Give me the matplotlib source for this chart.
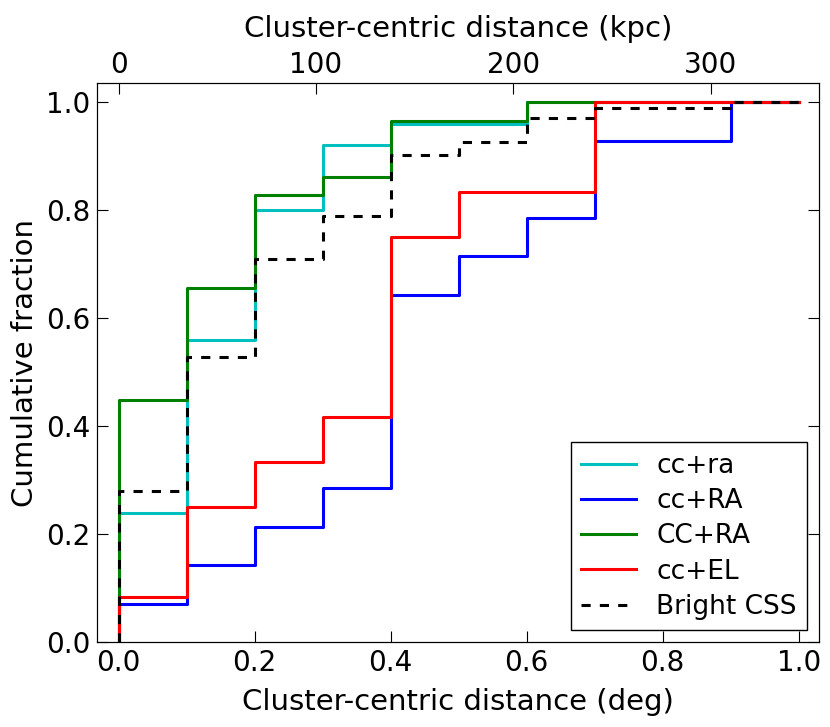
import numpy as np
import matplotlib
matplotlib.use("Agg")
import matplotlib.pyplot as plt

# bin edges (deg) and cumulative fraction at each bin
edges = [0.0, 0.1, 0.2, 0.3, 0.4, 0.5, 0.6, 0.7, 0.8, 0.9, 1.0]
cc_ra = [0.24, 0.56, 0.80, 0.92, 0.96, 0.96, 1.0, 1.0, 1.0, 1.0]
cc_RA = [1/14, 2/14, 3/14, 4/14, 9/14, 10/14, 11/14, 13/14, 13/14, 1.0]
CC_RA = [13/29, 19/29, 24/29, 25/29, 28/29, 28/29, 1.0, 1.0, 1.0, 1.0]
cc_EL = [1/12, 3/12, 4/12, 5/12, 9/12, 10/12, 10/12, 1.0, 1.0, 1.0]
bright = [0.281, 0.529, 0.710, 0.790, 0.902, 0.926, 0.970, 0.99, 0.99, 1.0]

kpc_per_deg = 344.7
kpc_ticks = [0, 100, 200, 300]

series = [
    ("cc+ra", cc_ra, "c", "-"),
    ("cc+RA", cc_RA, "b", "-"),
    ("CC+RA", CC_RA, "g", "-"),
    ("cc+EL", cc_EL, "r", "-"),
    ("Bright CSS", bright, "k", (0, (3, 3))),
]

fs = 21
tfs = 20
fig = plt.figure(figsize=(8.3, 7.27), dpi=100)
ax = fig.add_axes([0.117, 0.1165, 0.870, 0.769])

for name, vals, col, ls in series:
    x = [edges[0]] + list(edges)
    y = [0.0] + list(vals) + [vals[-1]]
    ax.step(x, y, where="post", color=col, lw=2.2, ls=ls, label=name)

ax.set_xlim(-0.0315, 1.03)
ax.set_ylim(0, 1.035)
ax.set_xticks([0.0, 0.2, 0.4, 0.6, 0.8, 1.0])
ax.set_yticks([0.0, 0.2, 0.4, 0.6, 0.8, 1.0])
ax.tick_params(direction="in", length=8, labelsize=tfs, right=True, top=False, pad=5)
ax.set_xlabel("Cluster-centric distance (deg)", fontsize=fs, labelpad=7.5)
ax.set_ylabel("Cumulative fraction", fontsize=fs, labelpad=5)

ax2 = ax.twiny()
ax2.set_xlim(ax.get_xlim()[0] * kpc_per_deg, ax.get_xlim()[1] * kpc_per_deg)
ax2.set_xticks(kpc_ticks)
ax2.tick_params(direction="in", length=8, labelsize=tfs, pad=3)
ax2.set_xlabel("Cluster-centric distance (kpc)", fontsize=fs, labelpad=10)

leg = ax.legend(loc="lower right", fontsize=19, fancybox=False, edgecolor="k",
                framealpha=1, handlelength=2.1, handletextpad=0.75,
                labelspacing=0.35, borderaxespad=0.45)
leg.get_frame().set_linewidth(1.0)

fig.savefig("out.png", dpi=100)
